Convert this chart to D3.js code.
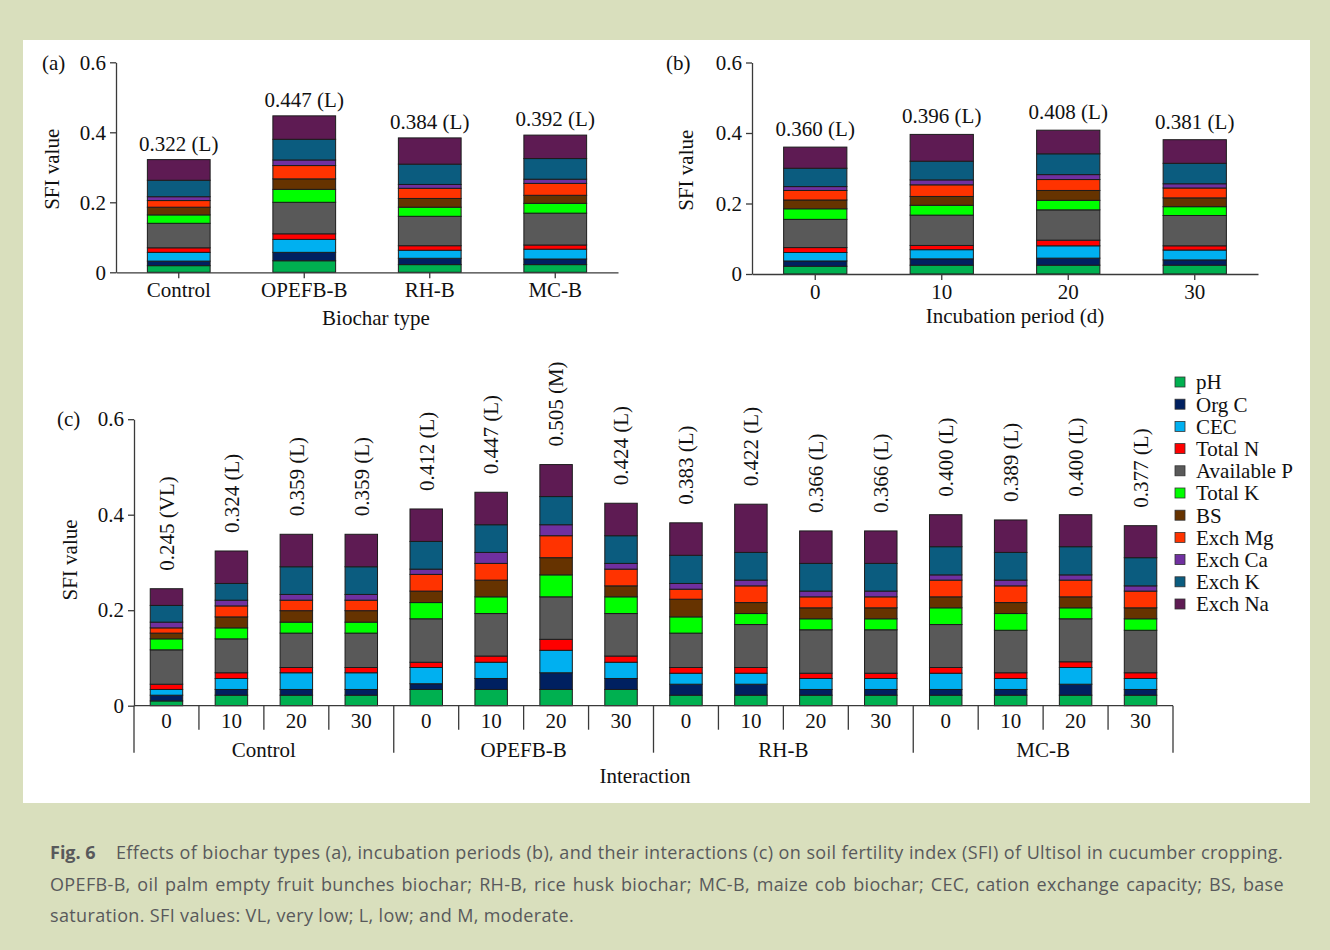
<!DOCTYPE html>
<html>
<head>
<meta charset="utf-8">
<script src="https://cdn.jsdelivr.net/npm/d3@7"></script>
<style>
  body { margin: 0; background: #d9dfbd; }
  svg { display: block; }
</style>
</head>
<body>
<svg id="fig" width="1330" height="950"></svg>
<script>
// Soil fertility index components, stacked from the bottom (pH) to the top (Exch Na)
const indicators = ["pH", "Org C", "CEC", "Total N", "Available P", "Total K", "BS", "Exch Mg", "Exch Ca", "Exch K", "Exch Na"];
const indicatorColors = ["#00b050", "#002060", "#00b0f0", "#ff0000", "#595959", "#00ff00", "#663300", "#ff3300", "#7030a0", "#0b5c7f", "#5e1b53"];

// (a) biochar types
const biocharTypes = ["Control", "OPEFB-B", "RH-B", "MC-B"];
const biocharClass = ["L", "L", "L", "L"];
const biocharSegments = [
  [0.019, 0.013, 0.025, 0.013, 0.070, 0.024, 0.022, 0.019, 0.011, 0.047, 0.059],
  [0.033, 0.024, 0.037, 0.016, 0.090, 0.037, 0.030, 0.038, 0.016, 0.059, 0.067],
  [0.022, 0.018, 0.023, 0.013, 0.084, 0.026, 0.025, 0.029, 0.011, 0.058, 0.075],
  [0.022, 0.016, 0.028, 0.012, 0.091, 0.028, 0.023, 0.034, 0.012, 0.059, 0.067]
];

// (b) incubation periods (days)
const incubationDays = ["0", "10", "20", "30"];
const incubationClass = ["L", "L", "L", "L"];
const incubationSegments = [
  [0.022, 0.015, 0.024, 0.014, 0.080, 0.030, 0.025, 0.027, 0.011, 0.052, 0.060],
  [0.025, 0.018, 0.026, 0.012, 0.086, 0.028, 0.025, 0.033, 0.014, 0.053, 0.076],
  [0.025, 0.020, 0.035, 0.016, 0.086, 0.027, 0.028, 0.031, 0.014, 0.059, 0.067],
  [0.025, 0.015, 0.028, 0.012, 0.086, 0.025, 0.025, 0.028, 0.012, 0.058, 0.067]
];

// (c) biochar type x incubation period
const interactionClass = ["VL", "L", "L", "L", "L", "L", "M", "L", "L", "L", "L", "L", "L", "L", "L", "L"];
const interactionSegments = [
  [0.010, 0.012, 0.012, 0.011, 0.072, 0.023, 0.012, 0.011, 0.012, 0.035, 0.035],
  [0.022, 0.012, 0.023, 0.012, 0.071, 0.023, 0.023, 0.023, 0.012, 0.035, 0.068],
  [0.022, 0.012, 0.035, 0.011, 0.072, 0.023, 0.024, 0.022, 0.012, 0.058, 0.068],
  [0.022, 0.012, 0.035, 0.011, 0.072, 0.023, 0.024, 0.022, 0.012, 0.058, 0.068],
  [0.034, 0.012, 0.034, 0.011, 0.091, 0.034, 0.024, 0.035, 0.011, 0.058, 0.068],
  [0.034, 0.023, 0.034, 0.013, 0.089, 0.035, 0.035, 0.035, 0.023, 0.058, 0.068],
  [0.034, 0.035, 0.047, 0.023, 0.089, 0.046, 0.036, 0.046, 0.023, 0.059, 0.067],
  [0.034, 0.023, 0.034, 0.013, 0.089, 0.035, 0.023, 0.035, 0.012, 0.058, 0.068],
  [0.022, 0.023, 0.023, 0.012, 0.072, 0.034, 0.037, 0.021, 0.012, 0.059, 0.068],
  [0.022, 0.023, 0.023, 0.012, 0.090, 0.023, 0.023, 0.035, 0.012, 0.058, 0.101],
  [0.022, 0.012, 0.023, 0.011, 0.091, 0.023, 0.023, 0.023, 0.012, 0.058, 0.068],
  [0.022, 0.012, 0.023, 0.011, 0.091, 0.023, 0.023, 0.023, 0.012, 0.058, 0.068],
  [0.022, 0.012, 0.034, 0.012, 0.090, 0.035, 0.023, 0.035, 0.011, 0.059, 0.067],
  [0.022, 0.012, 0.023, 0.012, 0.089, 0.035, 0.023, 0.035, 0.012, 0.058, 0.068],
  [0.022, 0.023, 0.035, 0.012, 0.090, 0.023, 0.023, 0.035, 0.011, 0.059, 0.067],
  [0.022, 0.012, 0.023, 0.012, 0.089, 0.024, 0.023, 0.035, 0.011, 0.059, 0.067]
];

const yTicks = [0, 0.2, 0.4, 0.6];

const captionLines = [
  "OPEFB-B, oil palm empty fruit bunches biochar; RH-B, rice husk biochar; MC-B, maize cob biochar; CEC, cation exchange capacity; BS, base",
  "saturation. SFI values: VL, very low; L, low; and M, moderate."
];
const captionHead = "Fig. 6";
const captionFirst = "Effects of biochar types (a), incubation periods (b), and their interactions (c) on soil fertility index (SFI) of Ultisol in cucumber cropping.";

const SERIF = "'Liberation Serif', 'Times New Roman', serif";
const FS = 21;
const AXIS = "#3a3a3a";

const svg = d3.select("#fig");
svg.append("rect").attr("width", 1330).attr("height", 950).attr("fill", "#d9dfbd");
svg.append("rect").attr("x", 23).attr("y", 40).attr("width", 1287).attr("height", 763).attr("fill", "#ffffff");

function styleAxis(g) {
  g.selectAll("path.domain").attr("stroke", AXIS).attr("stroke-width", 1.3);
  g.selectAll(".tick line").attr("stroke", AXIS).attr("stroke-width", 1.3);
  g.selectAll("text").attr("font-family", SERIF).attr("font-size", FS).attr("fill", "#111");
}

function stackRows(cats, segs) {
  const rows = segs.map((vals, i) => {
    const r = { cat: cats[i], total: d3.sum(vals) };
    indicators.forEach((k, j) => { r[k] = vals[j]; });
    return r;
  });
  return { rows, series: d3.stack().keys(indicators)(rows) };
}

function drawBars(g, series, x, y) {
  g.selectAll("g.layer").data(series).join("g")
    .attr("class", "layer")
    .attr("fill", (d, i) => indicatorColors[i])
    .selectAll("rect").data(d => d).join("rect")
    .attr("x", d => x(d.data.cat))
    .attr("y", d => y(d[1]))
    .attr("width", x.bandwidth())
    .attr("height", d => y(d[0]) - y(d[1]))
    .attr("stroke", "#1c1c1c")
    .attr("stroke-width", 1);
}

function yAxis(g, y) {
  g.call(d3.axisLeft(y).tickValues(yTicks)
      .tickFormat(d => d === 0 ? "0" : d3.format(".1f")(d))
      .tickSize(6).tickSizeOuter(0).tickPadding(4));
  styleAxis(g);
}

function label(txt, x, y, opts = {}) {
  const t = svg.append("text").attr("x", x).attr("y", y)
    .attr("font-family", SERIF).attr("font-size", FS).attr("fill", "#111")
    .attr("text-anchor", opts.anchor || "middle").text(txt);
  if (opts.rotate) t.attr("transform", `rotate(-90, ${x}, ${y})`);
  return t;
}

// ---- simple stacked panel (a) / (b) ----
function simplePanel(cats, segs, classes, xr, y0, y06, tag, tagX, ylabX, title, titleX, titleY, gapAbove) {
  const x = d3.scaleBand().domain(cats).range(xr).paddingInner(0.5).paddingOuter(0.25);
  const y = d3.scaleLinear().domain([0, 0.6]).range([y0, y06]);
  const { rows, series } = stackRows(cats, segs);
  drawBars(svg.append("g"), series, x, y);

  const gx = svg.append("g").attr("transform", `translate(0,${y0})`);
  gx.call(d3.axisBottom(x).tickSize(6).tickSizeOuter(0).tickPadding(4));
  styleAxis(gx);
  const gy = svg.append("g").attr("transform", `translate(${xr[0]},0)`);
  yAxis(gy, y);

  rows.forEach((r, i) => {
    label(`${r.total.toFixed(3)} (${classes[i]})`, x(r.cat) + x.bandwidth() / 2, y(r.total) - gapAbove);
  });

  label(tag, tagX, 70, { anchor: "start" });
  label("SFI value", ylabX, (y0 + y06) / 2 + 2, { rotate: true }).attr("dy", "0.35em");
  label(title, titleX, titleY);
}

simplePanel(biocharTypes, biocharSegments, biocharClass, [116, 618], 272.3, 62.3,
  "(a)", 42, 52, "Biochar type", 376, 325, 9);
simplePanel(incubationDays, incubationSegments, incubationClass, [752, 1258], 274, 62.5,
  "(b)", 666, 686, "Incubation period (d)", 1015, 323, 11);

// ---- interaction panel (c) ----
(function () {
  const cats = [];
  biocharTypes.forEach(b => incubationDays.forEach(d => cats.push(`${b}|${d}`)));
  const x = d3.scaleBand().domain(cats).range([134, 1173]).paddingInner(0.5).paddingOuter(0.25);
  const y0 = 705.7;
  const y = d3.scaleLinear().domain([0, 0.6]).range([y0, 419.2]);
  const { rows, series } = stackRows(cats, interactionSegments);
  drawBars(svg.append("g"), series, x, y);

  const gy = svg.append("g").attr("transform", `translate(134,0)`);
  yAxis(gy, y);

  // category axis with day ticks and biochar group brackets
  const ga = svg.append("g");
  ga.append("line").attr("x1", 134).attr("x2", 1173).attr("y1", y0).attr("y2", y0)
    .attr("stroke", AXIS).attr("stroke-width", 1.3);
  const step = x.step();
  d3.range(cats.length + 1).forEach(i => {
    const bx = 134 + i * step;
    const isGroup = i % incubationDays.length === 0;
    ga.append("line").attr("x1", bx).attr("x2", bx)
      .attr("y1", y0).attr("y2", y0 + (isGroup ? 47 : 24))
      .attr("stroke", AXIS).attr("stroke-width", 1.3);
  });
  cats.forEach(c => {
    label(c.split("|")[1], x(c) + x.bandwidth() / 2, 728);
  });
  biocharTypes.forEach((b, gi) => {
    label(b, 134 + step * (gi * incubationDays.length + incubationDays.length / 2), 757);
  });

  rows.forEach((r, i) => {
    const cx = x(r.cat) + x.bandwidth() / 2;
    label(`${r.total.toFixed(3)} (${interactionClass[i]})`, cx, y(r.total) - 18,
      { anchor: "start", rotate: true }).attr("dy", "0.35em");
  });

  label("(c)", 57, 426, { anchor: "start" });
  label("SFI value", 70, 560, { rotate: true }).attr("dy", "0.35em");
  label("Interaction", 645, 783);

  // legend
  const lg = svg.append("g");
  indicators.forEach((k, i) => {
    const cy = 382 + i * 22.2;
    lg.append("rect").attr("x", 1175).attr("y", cy - 5).attr("width", 10).attr("height", 10)
      .attr("fill", indicatorColors[i]).attr("stroke", "#333").attr("stroke-width", 0.8);
    lg.append("text").attr("x", 1196).attr("y", cy).attr("dy", "0.35em")
      .attr("font-family", SERIF).attr("font-size", FS).attr("fill", "#111").text(k);
  });
})();

// ---- caption ----
(function () {
  const SANS = "'Open Sans', 'Noto Sans', sans-serif";
  const col = "#58595b";
  const cap = svg.append("g").attr("font-family", SANS).attr("font-size", 18)
    .attr("letter-spacing", "0.35px").attr("fill", col);

  // spreads the words of one caption line evenly between x0 and x1
  function justify(words, x0, x1, yb) {
    const nodes = words.map(w => cap.append("text").attr("y", yb).text(w));
    const widths = nodes.map(n => n.node().getComputedTextLength());
    const gap = (x1 - x0 - d3.sum(widths)) / (words.length - 1);
    let cx = x0;
    nodes.forEach((n, i) => { n.attr("x", cx); cx += widths[i] + gap; });
  }

  cap.append("text").attr("x", 50).attr("y", 859).attr("font-weight", "bold")
    .attr("letter-spacing", "0px").text(captionHead);
  justify(captionFirst.split(" "), 116, 1283, 859);
  justify(captionLines[0].split(" "), 50, 1284, 891);
  cap.append("text").attr("x", 50).attr("y", 922).text(captionLines[1]);
})();
</script>
</body>
</html>
